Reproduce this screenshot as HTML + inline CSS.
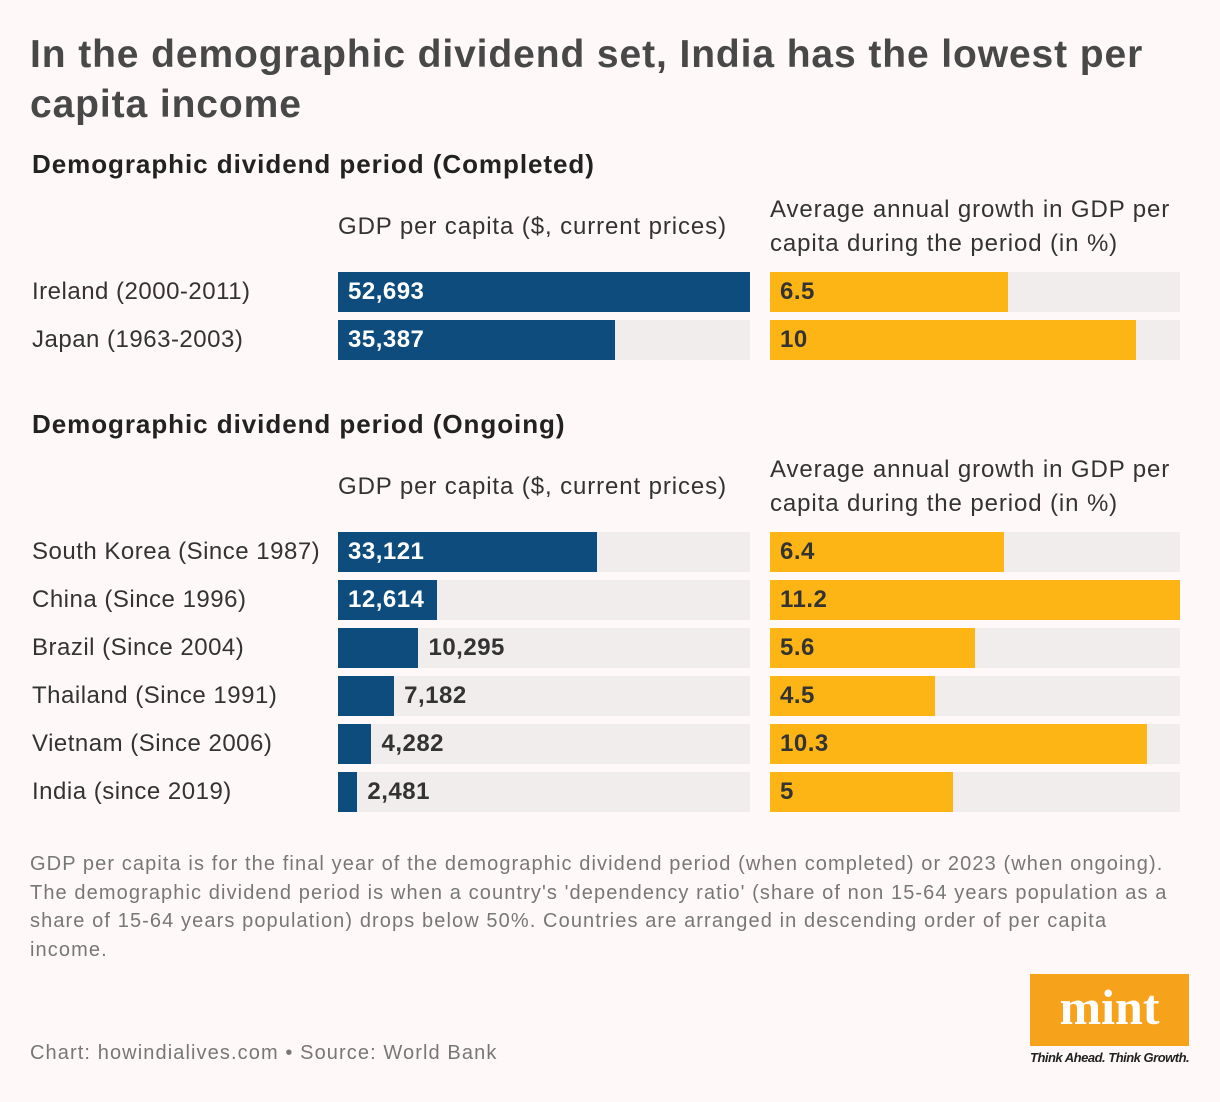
<!DOCTYPE html>
<html><head><meta charset="utf-8">
<style>
body{margin:0;width:1220px;height:1102px;background:#fff8f8;font-family:"Liberation Sans",sans-serif;color:#333;position:relative;overflow:hidden}
.abs{position:absolute}
#title{left:30px;top:30px;font-size:39px;font-weight:bold;color:#484848;line-height:50px;letter-spacing:0.9px;width:1190px;white-space:nowrap}
.sec{left:32px;font-size:26px;font-weight:bold;color:#222;letter-spacing:0.95px}
.hdr{font-size:24px;color:#333;line-height:34px;letter-spacing:0.9px;white-space:nowrap}
.lab{left:32px;font-size:24px;color:#333;letter-spacing:0.5px;height:40px;line-height:40px;white-space:nowrap}
.track{background:#f2eded;height:40px}
.bar{height:40px}
.val{font-size:24px;font-weight:bold;line-height:40px;letter-spacing:0.5px}
#note{left:30px;top:850px;width:1155px;font-size:20px;color:#777;line-height:28.5px;letter-spacing:1.1px}
#src{left:30px;top:1042px;font-size:20px;color:#777;letter-spacing:1.1px}
</style></head><body>
<div id="title" class="abs">In the demographic dividend set, India has the lowest per<br>capita income</div>
<div class="abs sec" style="top:149px">Demographic dividend period (Completed)</div>
<div class="abs hdr" style="left:338px;top:210px">GDP per capita ($, current prices)</div>
<div class="abs hdr" style="left:770px;top:193px">Average annual growth in GDP per<br>capita during the period (in %)</div>
<div class="abs sec" style="top:409px">Demographic dividend period (Ongoing)</div>
<div class="abs hdr" style="left:338px;top:470px">GDP per capita ($, current prices)</div>
<div class="abs hdr" style="left:770px;top:453px">Average annual growth in GDP per<br>capita during the period (in %)</div>
<div id="rows"></div>
<div id="note" class="abs">GDP per capita is for the final year of the demographic dividend period (when completed) or 2023 (when ongoing). The demographic dividend period is when a country's 'dependency ratio' (share of non 15-64 years population as a share of 15-64 years population) drops below 50%. Countries are arranged in descending order of per capita income.</div>
<div id="src" class="abs">Chart: howindialives.com • Source: World Bank</div>
<div class="abs" style="left:1030px;top:974px;width:159px;height:72px;background:#f7a21b">
<div style="text-align:center;color:#fff;font-family:'Liberation Serif',serif;font-weight:bold;font-size:50px;line-height:66px">mint</div></div>
<div class="abs" style="left:1030px;top:1050px;font-size:13px;font-weight:bold;font-style:italic;color:#222;letter-spacing:-0.5px">Think Ahead. Think Growth.</div>
<script>
const countries=["Ireland (2000-2011)","Japan (1963-2003)","South Korea (Since 1987)","China (Since 1996)","Brazil (Since 2004)","Thailand (Since 1991)","Vietnam (Since 2006)","India (since 2019)"];
const gdp=[52693,35387,33121,12614,10295,7182,4282,2481];
const growth=[6.5,10,6.4,11.2,5.6,4.5,10.3,5];
const rowTops=[272,320,532,580,628,676,724,772];
const GX=338,GW=412,RX=770,RW=410;
const gdpMax=52693,growthMax=11.2;
const xg=v=>v/gdpMax*GW, xr=v=>v/growthMax*RW;
const root=document.getElementById('rows');
function mk(cls,css,name){const d=document.createElement('div');d.className='abs '+cls;d.style.cssText=css;


root.appendChild(d);return d;}
countries.forEach((c,i)=>{
 const t=rowTops[i];
 const l=mk('lab','top:'+t+'px','country-label');l.textContent=c;
 mk('track','left:'+GX+'px;top:'+t+'px;width:'+GW+'px','gdp-track');
 const w=xg(gdp[i]);
 mk('bar','left:'+GX+'px;top:'+t+'px;width:'+w+'px;background:#0d4c7c','gdp-bar');
 const inside=w>90;
 const v=mk('val','top:'+t+'px;left:'+(inside?GX+10:GX+w+10)+'px;color:'+(inside?'#fff':'#333'),'gdp-value');
 v.textContent=gdp[i].toLocaleString('en-US');
 mk('track','left:'+RX+'px;top:'+t+'px;width:'+RW+'px','growth-track');
 mk('bar','left:'+RX+'px;top:'+t+'px;width:'+xr(growth[i])+'px;background:#fdb515','growth-bar');
 const g=mk('val','top:'+t+'px;left:'+(RX+10)+'px;color:#333','growth-value');
 g.textContent=String(growth[i]);
});
</script>
</body></html>
